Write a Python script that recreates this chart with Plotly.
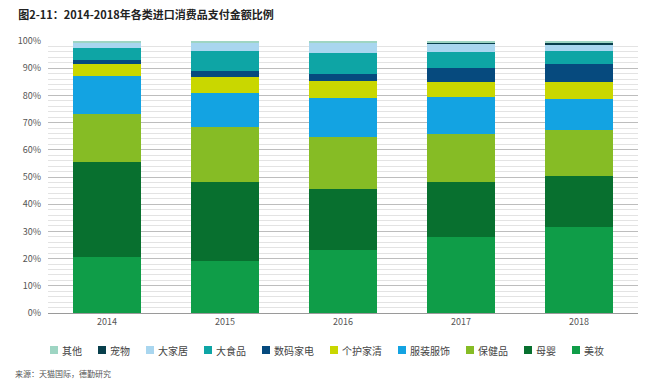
import plotly.graph_objects as go

years = ["2014", "2015", "2016", "2017", "2018"]

# stacked bottom -> top
meizhuang = [20.5, 19.2, 23.0, 28.1, 31.7]   # 美妆
muying = [34.9, 29.1, 22.6, 19.9, 18.8]      # 母婴
baojian = [17.8, 20.2, 19.2, 17.8, 16.8]     # 保健品
fuzhuang = [14.0, 12.3, 14.1, 13.5, 11.4]    # 服装服饰
gehu = [4.2, 6.1, 6.4, 5.7, 6.3]             # 个护家清
shuma = [1.6, 2.2, 2.6, 5.2, 6.4]            # 数码家电
dashipin = [4.3, 7.3, 7.6, 5.9, 4.9]         # 大食品
dajiaju = [2.2, 3.1, 3.8, 2.8, 2.2]          # 大家居
chongwu = [0.0, 0.0, 0.2, 0.6, 1.0]          # 宠物
qita = [0.5, 0.5, 0.5, 0.5, 0.5]             # 其他

series_names = ["美妆", "母婴", "保健品", "服装服饰", "个护家清", "数码家电", "大食品", "大家居", "宠物", "其他"]
series_values = [meizhuang, muying, baojian, fuzhuang, gehu, shuma, dashipin, dajiaju, chongwu, qita]
colors = ["#0f9d48", "#08702f", "#86bc25", "#13a3e2", "#c9d700", "#064a7e", "#0ea5a5", "#a9d6ef", "#083f4c", "#9ed5c3"]

y_ticks = [0, 10, 20, 30, 40, 50, 60, 70, 80, 90, 100]
y_ticklabels = ["0%", "10%", "20%", "30%", "40%", "50%", "60%", "70%", "80%", "90%", "100%"]

# legend order as shown (left -> right)
legend_order = ["其他", "宠物", "大家居", "大食品", "数码家电", "个护家清", "服装服饰", "保健品", "母婴", "美妆"]

font_family = "Noto Sans CJK SC, Noto Sans, sans-serif"

W, H = 650, 390
ML, MR, MT, MB = 48, 12, 41, 77
PW, PH = W - ML - MR, H - MT - MB


def px_x(px):
    return (px - ML) / PW


def px_y(py):
    return (H - MB - py) / PH


fig = go.Figure()
for name, vals, col in zip(series_names, series_values, colors):
    fig.add_trace(go.Bar(x=years, y=vals, name=name, showlegend=False,
                         marker=dict(color=col, line=dict(width=0))))

fig.update_layout(
    barmode="stack",
    bargap=0.43,
    width=W, height=H,
    margin=dict(l=ML, r=MR, t=MT, b=MB, autoexpand=False),
    paper_bgcolor="white", plot_bgcolor="white",
    font=dict(family=font_family, size=9, color="#595959"),
    title=dict(text="<b>图2-11：2014-2018年各类进口消费品支付金额比例</b>",
               x=0.028, xanchor="left", y=0.962, yanchor="middle",
               font=dict(size=11, color="#222222", family=font_family)),
    showlegend=False,
    xaxis=dict(type="category", showline=True, linecolor="#9a9a9a", linewidth=1,
               ticks="", tickfont=dict(size=9, color="#555555"), range=[-0.5, 4.5]),
    yaxis=dict(range=[0, 100], tickvals=y_ticks, ticktext=y_ticklabels,
               showgrid=True, gridcolor="#bdbdbd", gridwidth=1, zeroline=False,
               tickfont=dict(size=9, color="#555555"), ticks="", ticklabelstandoff=6,
               minor=dict(dtick=2, showgrid=True, gridcolor="#e3e3e3", gridwidth=1)),
)

# legend row (manual, to match compact swatch/text spacing)
color_of = dict(zip(series_names, colors))
leg_y = 350
sw = 8
x_cur = 50
for name in legend_order:
    fig.add_shape(type="rect", xref="paper", yref="paper",
                  x0=px_x(x_cur), x1=px_x(x_cur + sw),
                  y0=px_y(leg_y + sw / 2), y1=px_y(leg_y - sw / 2),
                  fillcolor=color_of[name], line=dict(width=0))
    fig.add_annotation(text=name, xref="paper", yref="paper",
                       x=px_x(x_cur + sw + 2), xanchor="left",
                       y=px_y(leg_y), yanchor="middle", showarrow=False,
                       font=dict(size=10, color="#444444", family=font_family))
    x_cur += 28 + 10 * len(name)

fig.add_annotation(text="来源：天猫国际，德勤研究", xref="paper", yref="paper",
                   x=px_x(13), xanchor="left", y=px_y(373), yanchor="middle", showarrow=False,
                   font=dict(size=8, color="#555555", family=font_family))

fig.write_html("out.html", config={"displayModeBar": False},
               post_script="document.body.style.margin='0px';")
